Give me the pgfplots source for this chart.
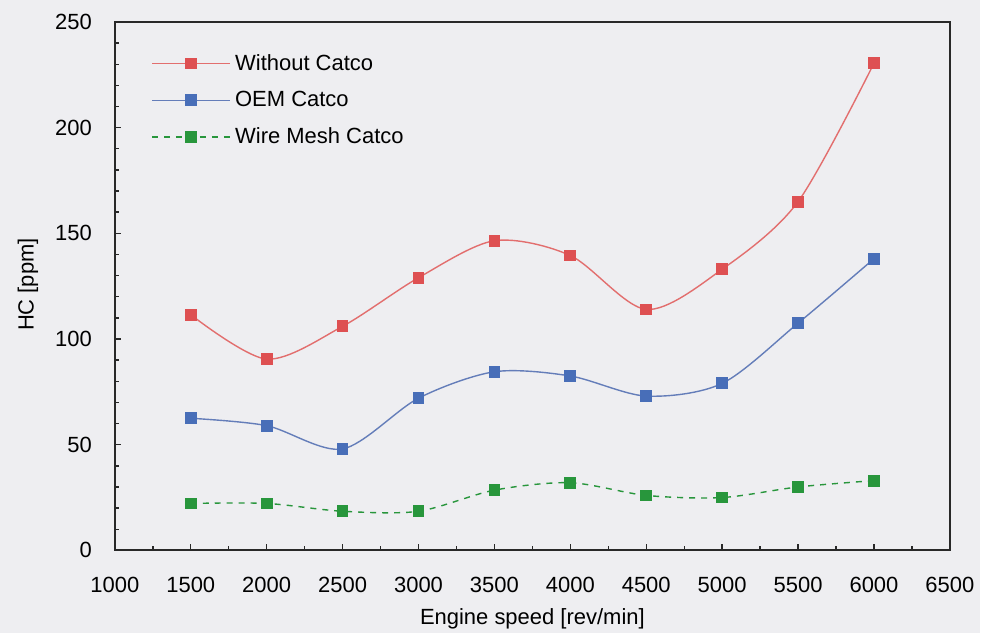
\documentclass[border=0pt]{standalone}
\usepackage{pgfplots}
\pgfplotsset{compat=1.18}
\usepackage{fontspec}
\setmainfont{Liberation Sans}
\usetikzlibrary{backgrounds}
\definecolor{bgc}{RGB}{238,238,241}
\definecolor{redm}{RGB}{222,80,82}
\definecolor{redl}{RGB}{226,110,110}
\definecolor{bluem}{RGB}{72,110,184}
\definecolor{bluel}{RGB}{100,125,185}
\definecolor{greenm}{RGB}{40,150,60}
\definecolor{axc}{RGB}{40,40,40}
\begin{document}
\begin{tikzpicture}
\begin{axis}[
  scale only axis,
  width=418pt, height=264.5pt,
  xmin=1000, xmax=6500, ymin=0, ymax=250,
  xtick={1000,1500,...,6500},
  ytick={0,50,...,250},
  minor x tick num=1,
  minor y tick num=4,
  tick align=inside,
  xtick pos=bottom, ytick pos=left,
  major tick length=3pt, minor tick length=2pt,
  axis line style={axc, line width=1pt},
  tick style={axc, line width=0.7pt},
  axis background/.style={fill=bgc},
  font=\fontsize{11}{13}\selectfont,
  /pgf/number format/assume math mode=true,
  /pgf/number format/set thousands separator={},
  xticklabel shift=10pt,
  yticklabel shift=8pt,
  xlabel={Engine speed [rev/min]},
  ylabel={HC [ppm]},
  xlabel style={at={(axis description cs:0.5,-0.1304)}, anchor=center},
  ylabel style={at={(axis description cs:-0.104,0.503)}, anchor=center},
  legend style={draw=none, fill=none, at={(rel axis cs:0.036,0.955)}, anchor=north west,
    font=\fontsize{11}{13}\selectfont, row sep=5pt},
  legend cell align=left,
  legend image code/.code={\draw[mark repeat=2,mark phase=2] plot coordinates {(0cm,0cm) (0.69cm,0cm) (1.38cm,0cm)};},
]
\coordinate (O) at (rel axis cs:0,0);
\addplot[redl, line width=0.7pt, smooth, mark=square*, mark size=2.6pt, mark options={solid, fill=redm, draw=redm}] coordinates {
(1500,111.5) (2000,90.5) (2500,106) (3000,129) (3500,146.5) (4000,139.5) (4500,114) (5000,133) (5500,165) (6000,230.5)};
\addlegendentry{Without Catco}
\addplot[bluel, line width=0.7pt, smooth, mark=square*, mark size=2.6pt, mark options={solid, fill=bluem, draw=bluem}] coordinates {
(1500,62.5) (2000,59) (2500,48) (3000,72) (3500,84.5) (4000,82.5) (4500,73) (5000,79) (5500,107.5) (6000,138)};
\addlegendentry{OEM Catco}
\addplot[greenm, line width=0.7pt, dashed, smooth, mark=square*, mark size=2.6pt, mark options={solid, fill=greenm, draw=greenm}] coordinates {
(1500,22.2) (2000,22.2) (2500,18.5) (3000,18.5) (3500,28.5) (4000,32) (4500,26) (5000,25) (5500,30) (6000,33)};
\addlegendentry{Wire Mesh Catco}
\end{axis}
\begin{scope}[on background layer]
\fill[bgc] ([shift={(-57.5pt,-41.5pt)}]O) rectangle ++(490.5pt,317pt);
\end{scope}
\end{tikzpicture}
\end{document}
